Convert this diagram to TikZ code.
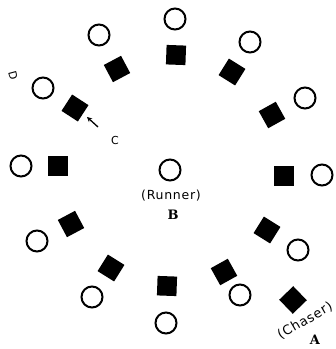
\documentclass[tikz,border=0pt]{standalone}
\usepackage{fontspec}
\setmainfont{DejaVu Sans}
\newfontfamily\lblfont[LetterSpace=6]{DejaVu Sans}
\newfontfamily\bigfont{DejaVu Serif}
\usetikzlibrary{arrows.meta}
\begin{document}
\begin{tikzpicture}[x=1pt,y=1pt,
  ring/.style={circle,draw=black,line width=2pt,minimum size=21pt,inner sep=0pt},
  blk/.style={rectangle,fill=black,minimum size=19.5pt,inner sep=0pt},
  lbl/.style={font=\fontsize{12.5}{14}\lblfont,inner sep=0pt},
  letter/.style={font=\fontsize{13}{14}\bigfont\bfseries,inner sep=0pt},
  tiny/.style={font=\fontsize{11}{12}\selectfont,inner sep=0pt}]
\useasboundingbox (0,0) rectangle (336,-349);
\fill[white] (0,0) rectangle (336,-349);
\foreach \i/\cx/\cy/\sx/\sy/\a in {
  1/175/19/176/55/88,
  2/250/42/232/72/58,
  3/305/98/272/115/29,
  4/322/175/284/176/0,
  5/298/250/267/230/-32,
  6/240/295/224/272/-61,
  7/166/323/167/286/-92,
  8/92/297/111/268/-122,
  9/37/241/71/224/-152,
  10/21/166/58/166/180,
  11/43/88/75/108/147,
  12/99/35/117/69/118}{
  \node[ring] (c\i) at (\cx,-\cy) {};
  \node[blk,rotate=\a] (s\i) at (\sx,-\sy) {};
}
\node[blk,rotate=-46] (chaser) at (293,-300) {};
\node[ring] (runner) at (170,-170) {};
\node[lbl] (rlab) at (171,-196) {(Runner)};
\node[letter] (rB) at (173,-215) {B};
\node[lbl,font=\fontsize{13}{14}\lblfont,rotate=30] (clab) at (305,-321) {(Chaser)};
\node[letter] (cA) at (315,-340) {A};
\node[tiny,rotate=-75] (dl) at (13,-76) {D};
\node[tiny] (cl) at (115,-140) {C};
\coordinate (arS) at (98,-127);
\coordinate (arE) at (87,-117);
\draw[line width=1.3pt,-{Stealth[length=5pt,width=5pt]}] (arS) -- (arE);
\end{tikzpicture}
\end{document}
